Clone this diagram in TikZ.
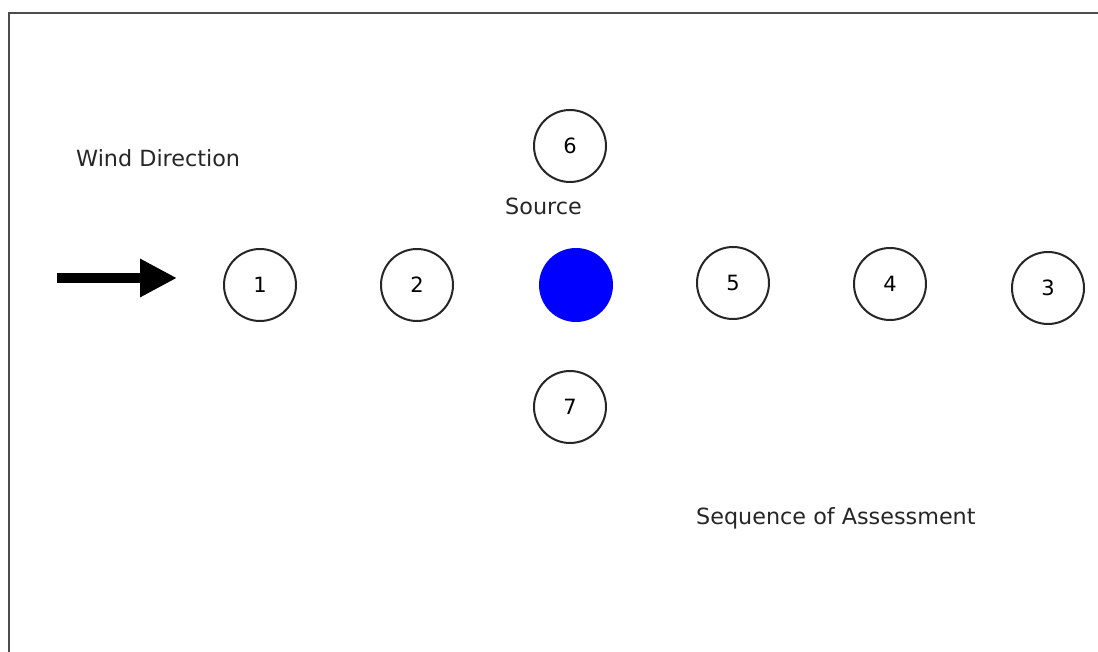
\documentclass[tikz,border=0pt]{standalone}
\usepackage{fontspec}
\setmainfont{DejaVu Sans}
\usetikzlibrary{arrows.meta}
\definecolor{srcblue}{RGB}{0,0,255}
\tikzset{
  x=1pt, y=-1pt,
  pt/.style={circle, draw=black!85, line width=2pt, minimum size=72pt, inner sep=0pt, font=\fontsize{21}{24}\selectfont},
  src/.style={circle, fill=srcblue, minimum size=74pt, inner sep=0pt},
  lbl/.style={font=\fontsize{22.3}{26}\selectfont, inner sep=0pt, anchor=west, text=black!85},
  frame/.style={draw=black!70, line width=2.4pt}
}
\begin{document}
\begin{tikzpicture}
\useasboundingbox (0,0) rectangle (1098,652);
\draw[frame] (9,652) -- (9,13) -- (1098,13);
\node[pt] (n1) at (260,285) {1};
\node[pt] (n2) at (417,285) {2};
\node[src] (s) at (576,285) {};
\node[pt] (n5) at (733,283) {5};
\node[pt] (n4) at (890,284) {4};
\node[pt] (n3) at (1048,288) {3};
\node[pt] (n6) at (570,146) {6};
\node[pt] (n7) at (570,407) {7};
\node[lbl] (wind) at (76,158) {Wind Direction};
\node[lbl] (source) at (505,206) {Source};
\node[lbl] (seq) at (696,518) {Sequence of Assessment};
\coordinate (a0) at (57,278);
\coordinate (a1) at (177,278);
\draw[line width=10pt, -{Triangle[length=37pt, width=36pt]}] (a0) -- (a1);
\end{tikzpicture}
\end{document}
